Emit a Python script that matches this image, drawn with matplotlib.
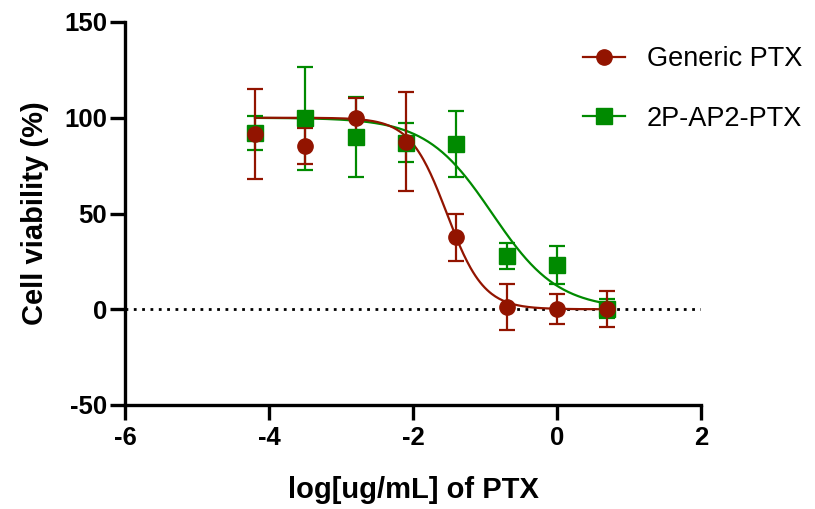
import numpy as np
import matplotlib.pyplot as plt

plt.rcParams['font.family'] = ['Liberation Sans', 'DejaVu Sans']
plt.rcParams['axes.unicode_minus'] = False

# концентрации (5-кратное разведение), log10 мкг/мл
log_conc = [-4.194, -3.495, -2.796, -2.097, -1.398, -0.699, 0.0, 0.699]

generic_mean = [91.7, 85.3, 100.0, 87.4, 37.6, 1.2, 0.0, 0.0]
generic_sd = [23.5, 9.6, 10.3, 25.8, 12.2, 12.0, 7.8, 9.5]

ap2_mean = [92.1, 99.7, 89.8, 87.0, 86.3, 27.8, 23.1, 0.2]
ap2_sd = [9.0, 27.0, 21.0, 10.0, 17.0, 7.0, 10.0, 5.0]

# параметры подгонки (top, bottom, logIC50, hill)
generic_fit = (100.0, 0.0, -1.53, 1.7)
ap2_fit = (100.0, 0.0, -0.9, 0.95)

labels = ['Generic PTX', '2P-AP2-PTX']
red = '#921400'
green = '#008a00'


def logistic(x, p):
    top, bottom, c, h = p
    return bottom + (top - bottom) / (1 + 10 ** ((x - c) * h))


fig = plt.figure(figsize=(8.15, 5.09), dpi=100)
ax = fig.add_axes([125 / 815, 104 / 509, 576 / 815, 383 / 509])

xs = np.linspace(log_conc[0], log_conc[-1], 300)
ax.plot([-6, 2], [0, 0], color='black', linestyle=(0, (1, 2)), linewidth=2, zorder=1)

ax.plot(xs, logistic(xs, ap2_fit), color=green, linewidth=1.6, zorder=2)
ax.plot(xs, logistic(xs, generic_fit), color=red, linewidth=1.6, zorder=2)

ax.errorbar(log_conc, ap2_mean, yerr=ap2_sd, fmt='none', ecolor=green,
            elinewidth=1.6, capsize=6, capthick=1.6, zorder=3)
ax.errorbar(log_conc, generic_mean, yerr=generic_sd, fmt='none', ecolor=red,
            elinewidth=1.6, capsize=6, capthick=1.6, zorder=3)
ax.plot(log_conc, ap2_mean, 's', color=green, markersize=11, zorder=4)
ax.plot(log_conc, generic_mean, 'o', color=red, markersize=11, zorder=5)

# легенда
h1, = ax.plot([], [], '-o', color=red, markersize=11, linewidth=1.6)
h2, = ax.plot([], [], '-s', color=green, markersize=11, linewidth=1.6)
fig.legend([h1, h2], labels, loc='upper left', bbox_to_anchor=(583 / 815, 1 - 46 / 509),
           frameon=False, fontsize=19.5, handlelength=1.55, labelspacing=1.25,
           handletextpad=0.8, borderaxespad=0, borderpad=0)

ax.set_xlim(-6, 2)
ax.set_ylim(-50, 150)
ax.set_xticks([-6, -4, -2, 0, 2])
ax.set_yticks([-50, 0, 50, 100, 150])
for s in ['top', 'right']:
    ax.spines[s].set_visible(False)
for s in ['left', 'bottom']:
    ax.spines[s].set_linewidth(2.4)
ax.tick_params(width=2.4, length=11, labelsize=18.5)
ax.tick_params(axis='y', pad=2)
ax.tick_params(axis='x', pad=4)
for t in ax.get_xticklabels() + ax.get_yticklabels():
    t.set_fontweight('bold')

ax.set_xlabel('log[ug/mL] of PTX', fontsize=21, fontweight='bold', labelpad=19)
ax.set_ylabel('Cell viability (%)', fontsize=21, fontweight='bold', labelpad=11)

fig.savefig('out.png', dpi=100)
